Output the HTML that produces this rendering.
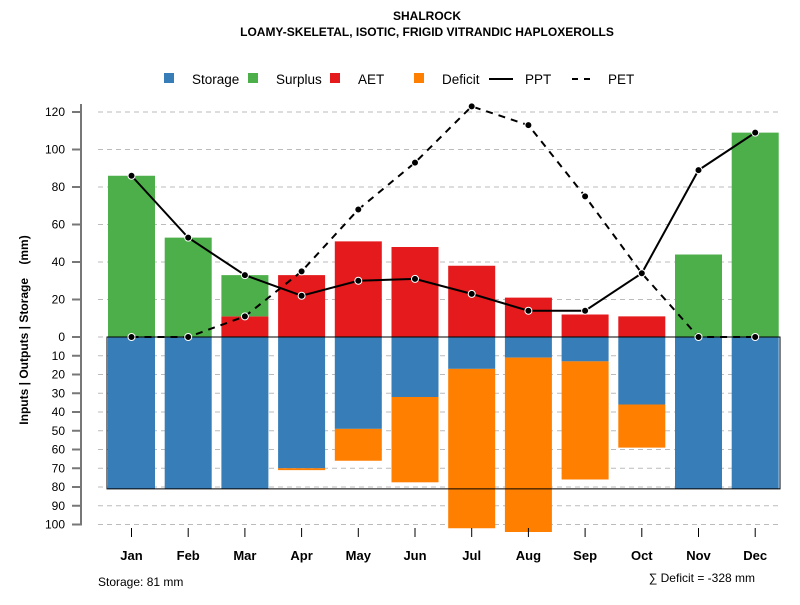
<!DOCTYPE html>
<html><head><meta charset="utf-8"><style>
body{margin:0;background:#fff;}
svg{font-family:"Liberation Sans",Arial,sans-serif;}
</style></head><body>
<svg width="800" height="600" xmlns="http://www.w3.org/2000/svg">
<text x="427" y="20" text-anchor="middle" font-size="12" font-weight="bold">SHALROCK</text>
<text x="427" y="36" text-anchor="middle" font-size="12" font-weight="bold">LOAMY-SKELETAL, ISOTIC, FRIGID VITRANDIC HAPLOXEROLLS</text>
<g id="legend" font-size="13.5">
<rect x="164" y="73" width="10" height="10" fill="#377EB8"/><text x="192" y="84">Storage</text>
<rect x="248" y="73" width="10" height="10" fill="#4DAF4A"/><text x="276" y="84">Surplus</text>
<rect x="330" y="73" width="10" height="10" fill="#E41A1C"/><text x="358" y="84">AET</text>
<rect x="414" y="73" width="10" height="10" fill="#FF7F00"/><text x="442" y="84">Deficit</text>
<line x1="489" y1="79" x2="513" y2="79" stroke="#000" stroke-width="2"/><text x="525" y="84">PPT</text>
<line x1="572" y1="79" x2="593" y2="79" stroke="#000" stroke-width="2" stroke-dasharray="6,6"/><text x="608" y="84">PET</text>
</g>
<g id="grid"></g><g id="bars"></g><g id="axes"></g><g id="lines"></g>
<text transform="translate(28,330) rotate(-90)" text-anchor="middle" font-size="12" font-weight="bold">Inputs | Outputs | Storage&#160;&#160;&#160;&#160;(mm)</text>
<text x="98" y="586" font-size="12">Storage: 81 mm</text>
<text x="755" y="582" text-anchor="end" font-size="12">∑ Deficit = -328 mm</text>
</svg>
<script>
const months=["Jan","Feb","Mar","Apr","May","Jun","Jul","Aug","Sep","Oct","Nov","Dec"];
const aet=[0,0,11,33,51,48,38,21,12,11,0,0];
const surplus=[86,53,22,0,0,0,0,0,0,0,44,109];
const storageUtil=[0,0,0,70,49,32,17,11,13,36,0,0];
const deficit=[0,0,0,1,17,45.5,85,93,63,23,0,0];
const ppt=[86,53,33,22,30,31,23,14,14,34,89,109];
const pet=[0,0,11,35,68,93,123,113,75,34,0,0];
const awc=81;
const upTicks=[0,20,40,60,80,100,120];
const downTicks=[10,20,30,40,50,60,70,80,90,100];
const NS="http://www.w3.org/2000/svg";
const y0=337,k=1.875;
function yUp(v){return y0-v*k;}
function yDn(v){return y0+v*k;}
function xC(i){return 131.5+i*56.7;}
const bw=47;
function mk(p,t,a){const e=document.createElementNS(NS,t);for(const n in a)e.setAttribute(n,a[n]);document.getElementById(p).appendChild(e);return e;}
mk("axes","line",{x1:81,y1:yUp(120)-8,x2:81,y2:yDn(100)+1,stroke:"#777","stroke-width":2});
upTicks.forEach(v=>{
 const g=mk("grid","line",{x1:98,x2:780,y1:yUp(v),y2:yUp(v),stroke:"#bbb","stroke-dasharray":"5,4"});
 
 
 mk("axes","line",{x1:72,x2:81,y1:yUp(v),y2:yUp(v),stroke:"#777","stroke-width":2});
 const t=mk("axes","text",{x:65,y:yUp(v)+4,"text-anchor":"end","font-size":12});t.textContent=v;
 
 
});
downTicks.forEach(v=>{
 const g=mk("grid","line",{x1:98,x2:780,y1:yDn(v),y2:yDn(v),stroke:"#bbb","stroke-dasharray":"5,4"});
 
 
 mk("axes","line",{x1:72,x2:81,y1:yDn(v),y2:yDn(v),stroke:"#777","stroke-width":2});
 const t=mk("axes","text",{x:65,y:yDn(v)+4,"text-anchor":"end","font-size":12});t.textContent=v;
 
 
});
months.forEach((m,i)=>{
 const x=xC(i),l=x-bw/2;
 if(aet[i]>0){const r=mk("bars","rect",{x:l,y:yUp(aet[i]),width:bw,height:aet[i]*k,fill:"#E41A1C"});
  
  }
 if(surplus[i]>0){const r=mk("bars","rect",{x:l,y:yUp(aet[i]+surplus[i]),width:bw,height:surplus[i]*k,fill:"#4DAF4A"});
  
  }
 const st=storageUtil[i]>0?storageUtil[i]:awc;
 const s=mk("bars","rect",{x:l,y:y0,width:bw,height:st*k,fill:"#377EB8"});
 
 
 if(deficit[i]>0){const r=mk("bars","rect",{x:l,y:yDn(st),width:bw,height:deficit[i]*k,fill:"#FF7F00"});
  
  }
 mk("axes","line",{x1:x,x2:x,y1:528,y2:537,stroke:"#000"});
 const t=mk("axes","text",{x:x,y:560,"text-anchor":"middle","font-size":13,"font-weight":"bold"});t.textContent=m;
 
 
});
const box=mk("bars","rect",{x:107,y:y0,width:673,height:awc*k,fill:"none",stroke:"#000","stroke-width":1});


function series(arr,dash,name){
 const p=mk("lines","polyline",{points:arr.map((v,i)=>xC(i)+","+yUp(v)).join(" "),fill:"none",stroke:"#000","stroke-width":2,"stroke-dasharray":dash});
 
 
 arr.forEach((v,i)=>{const c=mk("lines","circle",{cx:xC(i),cy:yUp(v),r:3.5,fill:"#000",stroke:"#fff","stroke-width":1});
  
  });
}
series(pet,"7,6","pet-line");
series(ppt,"none","ppt-line");
</script>
</body></html>
